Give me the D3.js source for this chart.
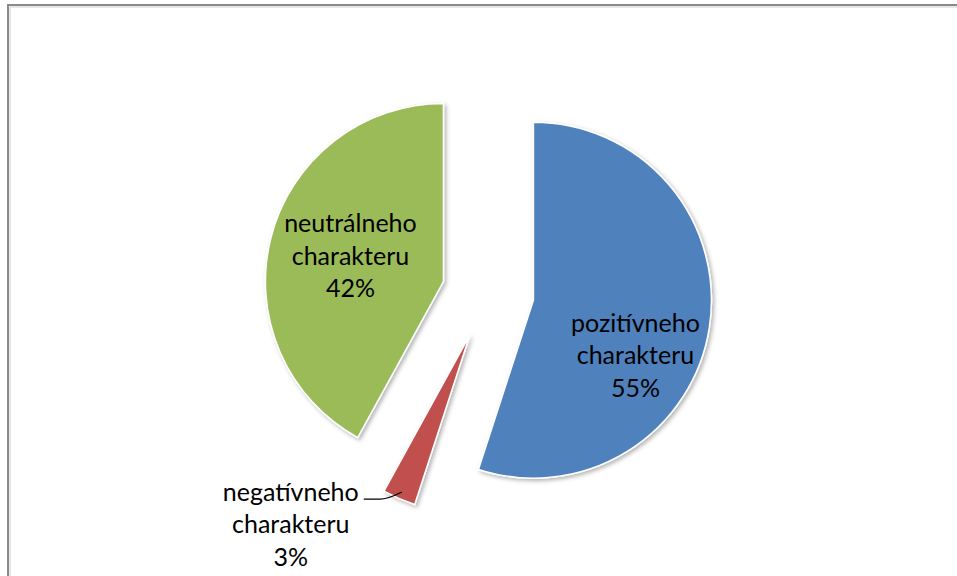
<!DOCTYPE html>
<html>
<head>
<meta charset="utf-8">
<script src="https://cdn.jsdelivr.net/npm/d3@7"></script>
<style>
  body { margin: 0; background: #fff; }
  svg { display: block; }
  text { font-family: Lato, "Open Sans", sans-serif; fill: #000; }
</style>
</head>
<body>
<div class="main"></div>
<script>
// slice order follows the picture: clockwise from 12 o'clock
var categories = ['pozitívneho charakteru', 'negatívneho charakteru', 'neutrálneho charakteru'];
var values = [55, 3, 42];
var labelLines = [['pozitívneho', 'charakteru', '55%'],
                  ['negatívneho', 'charakteru', '3%'],
                  ['neutrálneho', 'charakteru', '42%']];
var colors = ['#4f81bd', '#c0504d', '#9bbb59'];

var width = 957, height = 576;
var cx = 488, cy = 293, radius = 178, explode = 46;
var fontSize = 25, lineGap = 32.5;

var svg = d3.select('.main').append('svg')
    .attr('width', width)
    .attr('height', height);

var defs = svg.append('defs');
var shadow = defs.append('filter').attr('id', 'shadow')
    .attr('x', '-20%').attr('y', '-20%').attr('width', '140%').attr('height', '140%');
shadow.append('feDropShadow')
    .attr('dx', 2).attr('dy', 2).attr('stdDeviation', 2)
    .attr('flood-color', '#000').attr('flood-opacity', 0.3);

// chart frame
svg.append('rect')
    .attr('x', 8).attr('y', 5)
    .attr('width', width + 20).attr('height', height + 20)
    .attr('fill', 'none')
    .attr('stroke', '#8a8a8a')
    .attr('stroke-width', 2);
svg.append('rect')
    .attr('x', 10).attr('y', 7)
    .attr('width', width + 20).attr('height', height + 20)
    .attr('fill', 'none')
    .attr('stroke', '#d0d0d0')
    .attr('stroke-width', 1);

var pie = d3.pie().sort(null).value(function(d){ return d; });
var arcs = pie(values);
var arc = d3.arc().innerRadius(0).outerRadius(radius);

function offset(d, dist) {
  var a = (d.startAngle + d.endAngle) / 2;
  return [Math.sin(a) * dist, -Math.cos(a) * dist];
}

var g = svg.append('g').attr('transform', 'translate(' + cx + ',' + cy + ')');

g.selectAll('.slice')
  .data(arcs)
  .enter().append('path')
  .attr('class', 'slice')
  .attr('d', arc)
  .attr('transform', function(d){
    var o = offset(d, explode);
    return 'translate(' + o[0] + ',' + o[1] + ')';
  })
  .style('fill', function(d, i){ return colors[i]; })
  .style('stroke', '#fff')
  .style('stroke-width', 1.5)
  .attr('filter', 'url(#shadow)');

// label anchors, relative to each exploded slice centre (middle line)
var labelPos = [[102, 64], [-179, 198], [-93, -17]];

var labels = g.selectAll('.label')
  .data(arcs)
  .enter().append('text')
  .attr('class', 'label')
  .attr('text-anchor', 'middle')
  .style('font-size', fontSize + 'px')
  .attr('transform', function(d, i){
    var o = offset(d, explode);
    return 'translate(' + (o[0] + labelPos[i][0]) + ',' + (o[1] + labelPos[i][1]) + ')';
  });

labels.selectAll('tspan')
  .data(function(d, i){ return labelLines[i]; })
  .enter().append('tspan')
  .attr('x', 0)
  .attr('y', function(d, j){ return (j - 1) * lineGap; })
  .text(function(d){ return d; });

// leader line for the small slice
var small = arcs[1];
var so = offset(small, explode);
var tip = offset(small, radius * 0.96);
var sx = so[0] + tip[0], sy = so[1] + tip[1];
var lx = so[0] + labelPos[1][0] + 73, ly = so[1] + labelPos[1][1] - 34;
g.append('path')
  .attr('d', 'M' + lx + ',' + ly + ' L' + (lx + 16) + ',' + ly + ' Q' + (lx + 24) + ',' + ly + ' ' + sx + ',' + sy)
  .attr('fill', 'none')
  .attr('stroke', '#000')
  .attr('stroke-width', 1.3);
</script>
</body>
</html>
